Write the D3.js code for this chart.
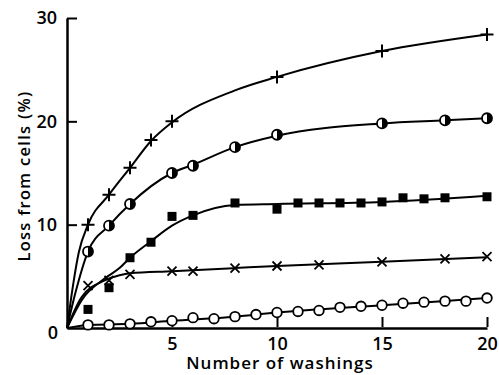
<!DOCTYPE html>
<html>
<head>
<meta charset="utf-8">
<script src="https://cdnjs.cloudflare.com/ajax/libs/d3/7.8.5/d3.min.js"></script>
<style>
    body { margin: 0; background: #fff; }
    text { font-family: "Open Sans", Lato, sans-serif; font-weight: 600; fill: #000; }
</style>
</head>
<body>
<svg id="chart" width="499" height="375"></svg>
<script>
// washings (x) and loss from cells (%) for each marker series
const plusX = [1, 2, 3, 4, 5, 10, 15, 20];
const plusY = [10, 12.9, 15.5, 18.2, 20, 24.3, 26.8, 28.4];

const halfX = [1, 2, 3, 5, 6, 8, 10, 15, 18, 20];
const halfY = [7.4, 9.9, 12, 15, 15.7, 17.5, 18.7, 19.8, 20.1, 20.3];

const squareX = [1, 2, 3, 4, 5, 6, 8, 10, 11, 12, 13, 14, 15, 16, 17, 18, 20];
const squareY = [1.8, 3.9, 6.8, 8.3, 10.8, 10.9, 12.1, 11.5, 12.1, 12.1, 12.1, 12.1, 12.2, 12.6, 12.5, 12.6, 12.7];

const crossX = [1, 2, 3, 5, 6, 8, 10, 12, 15, 18, 20];
const crossY = [4.1, 4.6, 5.2, 5.5, 5.5, 5.8, 6.0, 6.1, 6.4, 6.7, 6.9];

const openX = [1, 2, 3, 4, 5, 6, 7, 8, 9, 10, 11, 12, 13, 14, 15, 16, 17, 18, 19, 20];
const openY = [0.3, 0.3, 0.4, 0.6, 0.7, 1.0, 0.9, 1.1, 1.3, 1.5, 1.6, 1.7, 2.0, 2.1, 2.2, 2.4, 2.5, 2.6, 2.6, 2.9];

// the smooth fitted curves
const plusFitX = [0, 0.3, 0.56, 1, 2, 3, 4, 5, 8, 10, 15, 20];
const plusFitY = [0, 4.3, 7.3, 10, 12.9, 15.5, 18.1, 19.9, 23.0, 24.3, 26.8, 28.4];
const halfFitX = [0, 0.4, 1, 2, 3, 5, 6, 8, 10, 15, 18, 20];
const halfFitY = [0, 3.4, 7.4, 9.9, 12, 15, 15.8, 17.5, 18.6, 19.8, 20.1, 20.3];
const squareFitX = [0, 0.7, 1.8, 2.5, 3, 4, 5, 6, 8, 10, 15, 20];
const squareFitY = [0, 2.7, 4.8, 5.8, 6.8, 8.4, 9.9, 10.9, 11.9, 12.0, 12.2, 12.8];
const crossFitX = [0, 0.7, 1.8, 2.5, 3, 5, 8, 10, 15, 20];
const crossFitY = [0, 3.0, 4.6, 5.1, 5.3, 5.5, 5.8, 6.0, 6.4, 6.85];
const openFitX = [0, 1, 3, 5, 8, 10, 15, 20];
const openFitY = [0, 0.3, 0.4, 0.7, 1.1, 1.5, 2.2, 2.9];

const xTicks = [5, 10, 15, 20];
const yTicks = [0, 10, 20, 30];

function draw() {
    var svg = d3.select('#chart');

    var x = d3.scaleLinear().domain([0, 20]).range([67, 487]);
    var y = d3.scaleLinear().domain([0, 30]).range([328, 18]);

    function pairs(xs, ys) {
        return xs.map(function (d, i) { return [d, ys[i]]; });
    }

    var line = d3.line()
        .x(function (d) { return x(d[0]); })
        .y(function (d) { return y(d[1]); })
        .curve(d3.curveMonotoneX);

    var fits = [
        pairs(plusFitX, plusFitY),
        pairs(halfFitX, halfFitY),
        pairs(squareFitX, squareFitY),
        pairs(crossFitX, crossFitY),
        pairs(openFitX, openFitY)
    ];

    svg.selectAll('path.fit').data(fits)
        .enter().append('path')
        .attr('class', 'fit')
        .attr('d', line)
        .attr('fill', 'none')
        .attr('stroke', '#000')
        .attr('stroke-width', 2);

    // axes, ticks point inwards
    var xAxis = svg.append('g')
        .attr('transform', 'translate(0,' + y(0) + ')')
        .call(d3.axisBottom(x).tickValues(xTicks).tickSizeInner(-11).tickSizeOuter(0).tickPadding(9));
    var yAxis = svg.append('g')
        .attr('transform', 'translate(' + x(0) + ',0)')
        .call(d3.axisLeft(y).tickValues(yTicks).tickSizeInner(-10).tickSizeOuter(0).tickPadding(10));

    [xAxis, yAxis].forEach(function (a) {
        a.select('.domain').attr('stroke-width', 2.5);
        a.selectAll('.tick line').attr('stroke-width', 2);
        a.selectAll('.tick text').attr('font-size', 18).attr('font-family', null);
    });
    // the 0 sits below the corner
    yAxis.selectAll('.tick').filter(function (d) { return d === 0; })
        .each(function () {
            d3.select(this).select('line').remove();
            d3.select(this).select('text').attr('dy', '0.6em').attr('x', -9);
        });
    xAxis.selectAll('.tick line').attr('y1', -1);

    // markers
    svg.selectAll('path.cross').data(pairs(crossX, crossY))
        .enter().append('path')
        .attr('class', 'cross')
        .attr('d', function (d) {
            var cx = x(d[0]), cy = y(d[1]), r = 4.5;
            return 'M' + (cx - r) + ',' + (cy - r) + 'L' + (cx + r) + ',' + (cy + r) +
                'M' + (cx - r) + ',' + (cy + r) + 'L' + (cx + r) + ',' + (cy - r);
        })
        .attr('stroke', '#000')
        .attr('stroke-width', 1.8);

    svg.selectAll('path.plus').data(pairs(plusX, plusY))
        .enter().append('path')
        .attr('class', 'plus')
        .attr('d', function (d) {
            var cx = x(d[0]), cy = y(d[1]), r = 6.5;
            return 'M' + (cx - r) + ',' + cy + 'L' + (cx + r) + ',' + cy +
                'M' + cx + ',' + (cy - r) + 'L' + cx + ',' + (cy + r);
        })
        .attr('stroke', '#000')
        .attr('stroke-width', 2);

    svg.selectAll('rect.sq').data(pairs(squareX, squareY))
        .enter().append('rect')
        .attr('class', 'sq')
        .attr('x', function (d) { return x(d[0]) - 4.5; })
        .attr('y', function (d) { return y(d[1]) - 4.5; })
        .attr('width', 9)
        .attr('height', 9)
        .attr('fill', '#000');

    svg.selectAll('circle.open').data(pairs(openX, openY))
        .enter().append('circle')
        .attr('class', 'open')
        .attr('cx', function (d) { return x(d[0]); })
        .attr('cy', function (d) { return y(d[1]); })
        .attr('r', 4.8)
        .attr('fill', '#fff')
        .attr('stroke', '#000')
        .attr('stroke-width', 1.8);

    // half filled circles: right half black
    var half = svg.selectAll('g.half').data(pairs(halfX, halfY))
        .enter().append('g')
        .attr('class', 'half')
        .attr('transform', function (d) { return 'translate(' + x(d[0]) + ',' + y(d[1]) + ')'; });
    half.append('circle')
        .attr('r', 5)
        .attr('fill', '#fff')
        .attr('stroke', '#000')
        .attr('stroke-width', 1.8);
    half.append('path')
        .attr('d', 'M0,-5A5,5 0 0 1 0,5Z')
        .attr('fill', '#000');

    // axis titles
    svg.append('text')
        .attr('x', 280)
        .attr('y', 369)
        .attr('text-anchor', 'middle')
        .attr('font-size', 17)
        .attr('letter-spacing', 1)
        .text('Number of washings');

    svg.append('text')
        .attr('transform', 'translate(30,176) rotate(-90)')
        .attr('text-anchor', 'middle')
        .attr('font-size', 16.5)
        .attr('letter-spacing', 1.3)
        .text('Loss from cells (%)');
}

draw();
</script>
</body>
</html>
